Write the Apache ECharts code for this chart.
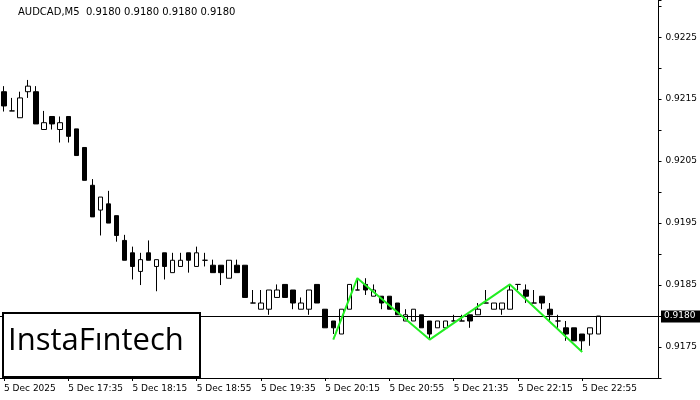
<!DOCTYPE html>
<html><head><meta charset="utf-8">
<script src="https://cdn.jsdelivr.net/npm/echarts@6/dist/echarts.min.js"></script>
<style>html,body{margin:0;padding:0;background:#fff}#c{width:700px;height:400px}</style>
</head><body><div id="c"></div>
<script>
// candle data in screen y-units converted to price: [open, close, low, high]
const yPix = [
[91,105,111,85],[110,110,110,97],[117,97,117,91],[91,85,97,79],[91,123,123,85],
[129,122,129,110],[116,123,129,116],[129,122,142,116],[116,136,142,116],[128,155,155,128],
[147,180,180,147],[185,217,217,179],[210,197,236,197],[204,223,223,191],[216,236,242,216],
[241,261,261,235],[253,267,280,247],[272,260,286,253],[253,261,261,241],[267,260,292,260],
[253,267,280,253],[273,261,273,253],[267,261,267,253],[253,261,273,253],[267,253,267,247],
[261,261,267,253],[266,273,273,260],[266,273,286,266],[279,261,279,261],[266,273,273,260],
[266,298,298,266],[304,304,304,291],[310,304,310,291],[310,291,316,291],[298,291,298,285],
[285,298,298,285],[291,304,310,291],[310,304,310,298],[310,291,316,291],[285,304,304,285],
[310,329,329,310],[322,329,335,322],[335,310,335,310],[310,285,310,285],[291,291,291,279],
[285,291,296,279],[297,291,297,285],[297,304,310,297],[297,310,310,297],[304,316,316,304],
[322,316,322,310],[322,310,322,310],[316,329,329,316],[322,335,340,322],[329,322,329,322],
[329,322,329,322],[322,322,322,316],[322,322,322,316],[316,322,329,316],[316,310,316,304],
[304,304,304,291],[310,304,310,304],[310,304,316,304],[310,291,310,285],[285,285,291,285],
[291,297,304,285],[304,304,304,291],[297,304,310,297],[310,316,322,304],[322,322,329,316],
[329,335,342,322],[329,342,342,329],[335,342,353,335],[335,329,347,329],[335,317,335,317]
];
const toPrice = y => +(0.9180 + (317 - y) * 0.000016).toFixed(5);
const candles = yPix.map(r => r.map(toPrice));
const patternIdx = [41, 44, 53, 63, 72];
const patternVal = [0.91762, 0.91861, 0.91762, 0.91851, 0.91742];
const currentPrice = 0.9180;
const totalSlots = 82;
const categories = [];
for (let i = 0; i < totalSlots; i++) {
  const m = 16 * 60 + 55 + 5 * i;
  const hh = Math.floor(m / 60), mm = m % 60;
  categories.push(i === 0 ? '5 Dec 2025' : '5 Dec ' + hh + ':' + String(mm).padStart(2, '0'));
}
const showTick = (i) => i % 8 === 0 && i <= 72;
const chart = echarts.init(document.getElementById('c'));
chart.setOption({
  animation: false,
  textStyle: {fontFamily: 'DejaVu Sans'},
  grid: {left: 0, right: 40, top: 0, bottom: 22},
  xAxis: {
    type: 'category', data: categories, boundaryGap: true,
    axisLine: {lineStyle: {color: '#000'}},
    axisTick: {show: true, interval: showTick, alignWithLabel: true, lineStyle: {color: '#000'}, length: 3},
    axisLabel: {interval: showTick, color: '#000', fontSize: 9, margin: 6, align: 'left'},
    splitLine: {show: false}
  },
  yAxis: {
    type: 'value', position: 'right', min: 0.9170, max: 0.9231, interval: 0.0005,
    axisLine: {show: true, lineStyle: {color: '#000'}},
    axisTick: {show: true, length: 3, lineStyle: {color: '#000'}},
    axisLabel: {color: '#000', fontSize: 9, margin: 7,
      formatter: v => (Math.round(v * 10000) % 10 === 5) ? v.toFixed(4) : ''},
    splitLine: {show: false}
  },
  series: [{
    type: 'candlestick', data: candles, barWidth: 5,
    itemStyle: {color: '#fff', color0: '#000', borderColor: '#000', borderColor0: '#000', borderWidth: 1}
  }, {
    type: 'line', data: patternIdx.map((x, i) => [x, patternVal[i]]),
    symbol: 'none', lineStyle: {color: '#22ee22', width: 2}, z: 5
  }]
});
const py = Math.round(chart.convertToPixel({yAxisIndex: 0}, currentPrice)) + 0.5;
chart.setOption({
  graphic: [
    {type: 'line', shape: {x1: 0, y1: py, x2: 660, y2: py}, style: {stroke: '#000', lineWidth: 1}, z: 3},
    {type: 'rect', shape: {x: 661, y: py - 6, width: 39, height: 12}, style: {fill: '#000'}, z: 4},
    {type: 'text', x: 664, y: py - 5, z: 5, style: {text: currentPrice.toFixed(4), fill: '#fff', fontSize: 9, fontFamily: 'DejaVu Sans'}},
    {type: 'text', left: 18, top: 7, style: {text: 'AUDCAD,M5  0.9180 0.9180 0.9180 0.9180', fill: '#000', fontSize: 10, fontFamily: 'DejaVu Sans'}},
    {type: 'rect', shape: {x: 3, y: 313, width: 197, height: 64}, style: {fill: '#fff', stroke: '#000', lineWidth: 2}, z: 10},
    {type: 'text', left: 8, top: 326, z: 11, style: {text: 'InstaFıntech', fill: '#000', fontSize: 31, fontWeight: 500, fontFamily: 'Open Sans'}}
  ]
});
</script></body></html>
